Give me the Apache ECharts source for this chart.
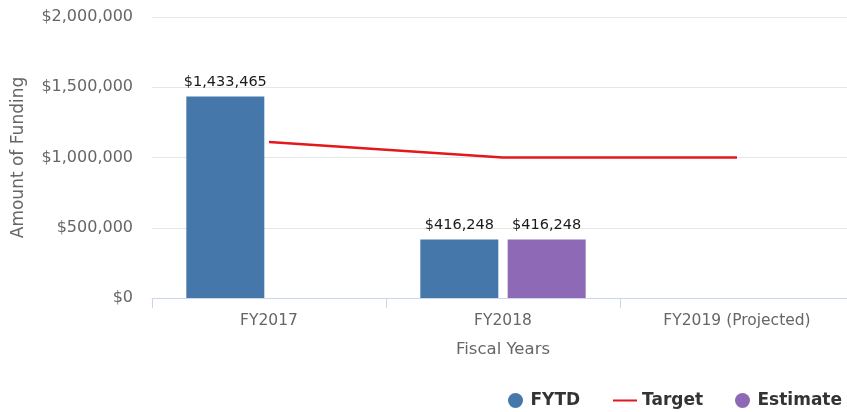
<!DOCTYPE html>
<html>
<head>
<meta charset="utf-8">
<script src="https://cdn.jsdelivr.net/npm/echarts@6/dist/echarts.min.js"></script>
<style>html,body{margin:0;padding:0;background:#fff;overflow:hidden}#c{width:854px;height:412px}</style>
</head>
<body>
<div id="c"></div>
<script>
var categories = ['FY2017', 'FY2018', 'FY2019 (Projected)'];
var fytd = [1433465, 416248, null];
var target = [1110000, 1000000, 1000000];
var estimate = [null, 416248, null];
var yTicks = [0, 500000, 1000000, 1500000, 2000000];

function money(v) { return '$' + Math.round(v).toString().replace(/\B(?=(\d{3})+(?!\d))/g, ','); }

var FONT = 'DejaVu Sans';
var chart = echarts.init(document.getElementById('c'), null, {renderer: 'canvas'});
var labelStyle = {
  show: true, position: 'top', distance: 7,
  formatter: function (p) { return money(p.value); },
  fontFamily: FONT, fontSize: 14.5, color: '#1a1a1a'
};
var legendText = {fontFamily: FONT, fontSize: 17, fontWeight: 'bold', color: '#333'};
chart.setOption({
  animation: false,
  textStyle: {fontFamily: FONT},
  grid: {left: 152, right: 0, top: 17, bottom: 114, containLabel: false},
  legend: [
    {data: [{name: 'FYTD', icon: 'circle'}], left: 503, top: 387, itemWidth: 20, itemHeight: 15, textStyle: legendText},
    {data: [{name: 'Target', icon: 'path://M0,0 L24,0 L24,2 L0,2 Z'}], left: 608, top: 387, itemWidth: 24, itemHeight: 15, textStyle: legendText},
    {data: [{name: 'Estimate', icon: 'circle'}], left: 730, top: 387, itemWidth: 20, itemHeight: 15, textStyle: legendText}
  ],
  xAxis: {
    type: 'category', data: categories,
    name: 'Fiscal Years', nameLocation: 'middle', nameGap: 43,
    nameTextStyle: {fontFamily: FONT, fontSize: 16.5, color: '#666'},
    axisLine: {lineStyle: {color: '#ccd6eb', width: 1}},
    axisTick: {show: true, length: 10, lineStyle: {color: '#ccd6eb'}},
    axisLabel: {fontFamily: FONT, fontSize: 15.5, color: '#666', margin: 15}
  },
  yAxis: {
    type: 'value', min: yTicks[0], max: yTicks[yTicks.length - 1], interval: 500000,
    name: 'Amount of Funding', nameLocation: 'middle', nameGap: 125,
    nameTextStyle: {fontFamily: FONT, fontSize: 17, color: '#666'},
    axisLine: {show: false}, axisTick: {show: false},
    splitLine: {lineStyle: {color: '#e6e6e6'}},
    axisLabel: {fontFamily: FONT, fontSize: 16, color: '#666', margin: 19, formatter: money}
  },
  series: [
    {name: 'FYTD', type: 'bar', data: fytd, barWidth: 78, barGap: '12%',
      itemStyle: {color: '#4677aa'}, label: labelStyle},
    {name: 'Target', type: 'line', data: target, symbol: 'none', showSymbol: false,
      itemStyle: {color: '#e4171c'}, lineStyle: {color: '#e4171c', width: 2.5}},
    {name: 'Estimate', type: 'bar', data: estimate, barWidth: 78, barGap: '12%',
      itemStyle: {color: '#8e6ab6'}, label: labelStyle}
  ]
});
</script>
</body>
</html>
